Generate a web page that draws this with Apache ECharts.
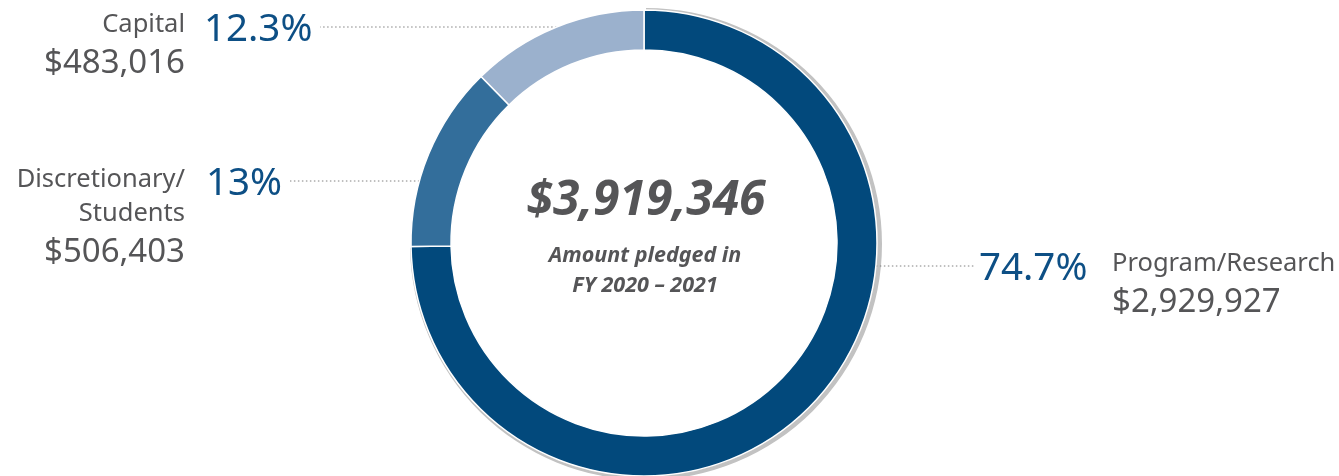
<!DOCTYPE html>
<html>
<head>
<meta charset="utf-8">
<script src="https://cdn.jsdelivr.net/npm/echarts@6/dist/echarts.min.js"></script>
<style>
html,body{margin:0;padding:0;background:#fff;}
#chart{width:1339px;height:476px;}
</style>
</head>
<body>
<div id="chart"></div>
<script>
const categories = ['Program/Research', 'Discretionary/\nStudents', 'Capital'];
const amounts = [2929927, 506403, 483016];
const amountLabels = ['$2,929,927', '$506,403', '$483,016'];
const percentLabels = ['74.7%', '13%', '12.3%'];
const totalLabel = '$3,919,346';
const subtitleLabel = 'Amount pledged in\nFY 2020 \u2013 2021';
const colors = ['#02497c', '#336e9b', '#9bb1cd'];

const FONT = '"Noto Sans", "Open Sans", sans-serif';
const CX = 644, CY = 243, R_IN = 193, R_OUT = 233;
const GRAY = '#555557';
const BLUE = '#0d4f85';

// layout of the text blocks (positions only)
const layout = [
  { lineY: 266, side: 'right', pctX: 979, lineEnd: 975, nameX: 1112, nameY: 264, valY: 303, align: 'left' },
  { lineY: 181, side: 'left', pctX: 206, lineEnd: 290, nameX: 185, nameY: 197, valY: 253, align: 'right' },
  { lineY: 27,  side: 'left', pctX: 204, lineEnd: 320, nameX: 185, nameY: 25,  valY: 64,  align: 'right' }
];

function edgeX(y, side) {
  const dx = Math.sqrt(R_OUT * R_OUT - (y - CY) * (y - CY));
  return side === 'left' ? CX - dx : CX + dx;
}

const chart = echarts.init(document.getElementById('chart'), null, { renderer: 'canvas' });

const graphics = [];
categories.forEach((c, i) => {
  const L = layout[i];
  graphics.push({
    type: 'text', x: L.nameX, y: L.nameY, z: 10,
    style: { text: c, fill: GRAY, font: '25.5px ' + FONT, align: L.align, verticalAlign: 'middle', lineHeight: 34 }
  });
  graphics.push({
    type: 'text', x: L.nameX, y: L.valY, z: 10,
    style: { text: amountLabels[i], fill: GRAY, font: '33px ' + FONT, align: L.align, verticalAlign: 'middle' }
  });
});
graphics.push({
  type: 'text', x: 646, y: 201, z: 10,
  style: { text: totalLabel, fill: GRAY, font: 'italic bold 48px ' + FONT, align: 'center', verticalAlign: 'middle' }
});
graphics.push({
  type: 'text', x: 645, y: 271, z: 10,
  style: { text: subtitleLabel, fill: GRAY, font: 'italic bold 21.5px ' + FONT, align: 'center', verticalAlign: 'middle', lineHeight: 30 }
});

const option = {
  backgroundColor: '#fff',
  animation: false,
  graphic: graphics,
  series: [
    {
      type: 'pie',
      z: 1,
      silent: true,
      center: [CX + 2, CY + 1],
      radius: [R_IN + 10, R_OUT + 3],
      startAngle: 90,
      label: { show: false },
      labelLine: { show: false },
      data: amounts.map((v, i) => ({
        value: v,
        itemStyle: { color: i === 0 ? '#c2c2c2' : 'rgba(0,0,0,0)' }
      }))
    },
    {
      type: 'pie',
      z: 2,
      center: [CX, CY],
      radius: [R_IN, R_OUT],
      startAngle: 90,
      itemStyle: { borderColor: '#fff', borderWidth: 1.5 },
      label: {
        show: true,
        formatter: (p) => percentLabels[p.dataIndex],
        color: BLUE,
        fontFamily: FONT,
        fontSize: 38.5
      },
      labelLine: {
        show: true,
        lineStyle: { color: '#808080', width: 1, type: [1.5, 2.5] }
      },
      labelLayout: function (params) {
        const L = layout[params.dataIndex];
        const ex = edgeX(L.lineY, L.side);
        return {
          x: L.pctX,
          y: L.lineY + 3,
          align: 'left',
          verticalAlign: 'middle',
          labelLinePoints: [[ex, L.lineY], [(ex + L.lineEnd) / 2, L.lineY], [L.lineEnd, L.lineY]]
        };
      },
      data: amounts.map((v, i) => ({
        value: v,
        name: categories[i],
        itemStyle: { color: colors[i] }
      }))
    }
  ]
};
chart.setOption(option);
</script>
</body>
</html>
